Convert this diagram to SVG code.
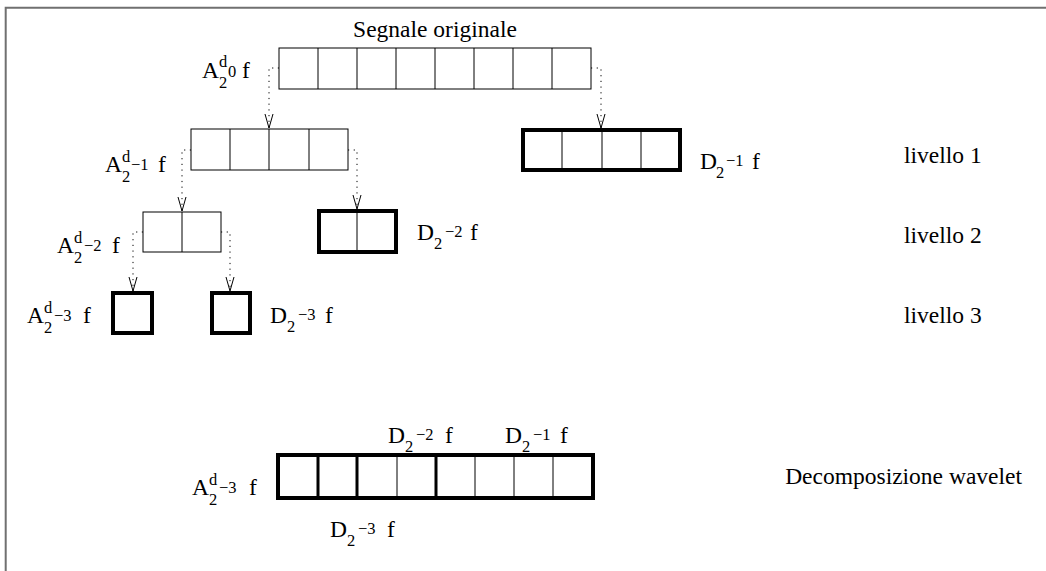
<svg xmlns="http://www.w3.org/2000/svg" width="1046" height="571" viewBox="0 0 1046 571">
  <defs>
    <style>
      .thin { fill: #fff; stroke: #000; stroke-width: 1; }
      .thick { fill: #fff; stroke: #000; stroke-width: 4; }
      .tdiv { stroke: #000; stroke-width: 1; }
      .bdiv { stroke: #000; stroke-width: 3; }
      .conn { fill: none; stroke: #000; stroke-width: 1; stroke-dasharray: 1.2 4.5; marker-end: url(#v); }
      text { font-family: "Liberation Serif", "Times New Roman", serif; fill: #000; }
      .t { font-size: 23.5px; }
      .s { font-size: 16.5px; }
    </style>
    <!-- open V arrowhead -->
    <marker id="v" markerUnits="userSpaceOnUse" viewBox="-15 -6 16 12" markerWidth="16" markerHeight="12" refX="0" refY="0" orient="auto">
      <path d="M-14,-4 L0,0 L-14,4" fill="none" stroke="#000" stroke-width="1"/>
    </marker>
  </defs>

  <rect width="1046" height="571" fill="#fff"/>
  <!-- frame -->
  <path d="M5.7,571 V7.7 H1046" fill="none" stroke="#707070" stroke-width="2"/>

  <text class="t" x="435" y="37" text-anchor="middle">Segnale originale</text>

  <!-- original signal: 8 samples -->
  <g id="signal">
    <rect class="thin" x="279" y="48" width="312" height="41"/>
    <path class="tdiv" d="M318,48 V89 M357,48 V89 M396,48 V89 M435,48 V89 M474,48 V89 M513,48 V89 M552,48 V89"/>
    <text class="t"><tspan x="202" y="78">A</tspan><tspan class="s" x="219" y="67">d</tspan><tspan class="s" x="219" y="88">2</tspan><tspan class="s" x="228" y="77">0</tspan><tspan x="242" y="78">f</tspan></text>
  </g>

  <!-- level 1 -->
  <g id="approx1">
    <rect class="thin" x="191" y="129" width="157" height="41"/>
    <path class="tdiv" d="M230,129 V170 M269,129 V170 M309,129 V170"/>
    <text class="t"><tspan x="105" y="172">A</tspan><tspan class="s" x="122" y="162">d</tspan><tspan class="s" x="122" y="182">2</tspan><tspan class="s" x="131" y="170">−1</tspan><tspan x="158" y="172">f</tspan></text>
  </g>
  <g id="detail1">
    <rect class="thick" x="523" y="130" width="157" height="40"/>
    <path class="tdiv" d="M562,130 V170 M602,130 V170 M641,130 V170"/>
    <text class="t"><tspan x="700" y="169">D</tspan><tspan class="s" x="716" y="178">2</tspan><tspan class="s" x="726" y="166">−1</tspan><tspan x="752" y="169">f</tspan></text>
  </g>

  <!-- level 2 -->
  <g id="approx2">
    <rect class="thin" x="143" y="212" width="78" height="40"/>
    <path class="tdiv" d="M182,212 V252"/>
    <text class="t"><tspan x="57" y="253">A</tspan><tspan class="s" x="74" y="243">d</tspan><tspan class="s" x="74" y="263">2</tspan><tspan class="s" x="84" y="251">−2</tspan><tspan x="112" y="253">f</tspan></text>
  </g>
  <g id="detail2">
    <rect class="thick" x="319" y="211" width="77" height="41"/>
    <path class="tdiv" d="M357,211 V252"/>
    <text class="t"><tspan x="417" y="240">D</tspan><tspan class="s" x="434" y="249">2</tspan><tspan class="s" x="445" y="237">−2</tspan><tspan x="470" y="240">f</tspan></text>
  </g>

  <!-- level 3 -->
  <g id="approx3">
    <rect class="thick" x="113" y="293" width="39" height="40"/>
    <text class="t"><tspan x="27" y="323">A</tspan><tspan class="s" x="44" y="313">d</tspan><tspan class="s" x="44" y="333">2</tspan><tspan class="s" x="54" y="321">−3</tspan><tspan x="83" y="323">f</tspan></text>
  </g>
  <g id="detail3">
    <rect class="thick" x="212" y="293" width="38" height="40"/>
    <text class="t"><tspan x="270" y="323">D</tspan><tspan class="s" x="287" y="332">2</tspan><tspan class="s" x="298" y="320">−3</tspan><tspan x="325" y="323">f</tspan></text>
  </g>

  <!-- level captions -->
  <g id="captions">
    <text class="t" x="904" y="163">livello 1</text>
    <text class="t" x="904" y="243">livello 2</text>
    <text class="t" x="904" y="323">livello 3</text>
    <text class="t" x="1022" y="484" text-anchor="end">Decomposizione wavelet</text>
  </g>

  <!-- resulting wavelet decomposition -->
  <g id="decomposition">
    <rect class="thick" x="278" y="455" width="315" height="43"/>
    <path class="tdiv" d="M397,455 V498 M475,455 V498 M514,455 V498 M553,455 V498"/>
    <path class="bdiv" d="M318,455 V498 M357,455 V498 M436,455 V498"/>
    <text class="t"><tspan x="192" y="495">A</tspan><tspan class="s" x="209" y="485">d</tspan><tspan class="s" x="209" y="505">2</tspan><tspan class="s" x="219" y="493">−3</tspan><tspan x="249" y="495">f</tspan></text>
    <text class="t"><tspan x="388" y="443">D</tspan><tspan class="s" x="405" y="452">2</tspan><tspan class="s" x="416" y="440">−2</tspan><tspan x="445" y="443">f</tspan></text>
    <text class="t"><tspan x="505" y="443">D</tspan><tspan class="s" x="522" y="452">2</tspan><tspan class="s" x="533" y="440">−1</tspan><tspan x="560" y="443">f</tspan></text>
    <text class="t"><tspan x="330" y="537">D</tspan><tspan class="s" x="347" y="546">2</tspan><tspan class="s" x="358" y="534">−3</tspan><tspan x="387" y="537">f</tspan></text>
  </g>

  <!-- dotted split connectors -->
  <g id="connectors">
    <path class="conn" d="M279,68 H269 V128"/>
    <path class="conn" d="M591,68 H601 V128"/>
    <path class="conn" d="M191,150 H182 V211"/>
    <path class="conn" d="M348,150 H357 V209"/>
    <path class="conn" d="M143,232 H133 V291"/>
    <path class="conn" d="M221,232 H230 V291"/>
  </g>
</svg>
